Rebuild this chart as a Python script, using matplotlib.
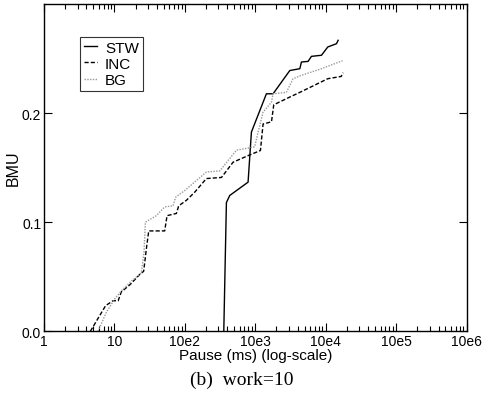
import numpy as np
import matplotlib
matplotlib.use("Agg")
import matplotlib.pyplot as plt
from matplotlib.ticker import LogLocator, NullFormatter

plt.rcParams['font.family'] = ['Liberation Sans', 'DejaVu Sans']

# pause (ms) and BMU
stw_x = [357, 389, 434, 790, 881, 1438, 1790, 3090, 4290, 4520, 5623, 6270, 8710, 10700, 14220, 15000]
stw_y = [0.0, 0.118, 0.1245, 0.1367, 0.1826, 0.2177, 0.2177, 0.239, 0.2407, 0.2468, 0.2474, 0.252, 0.253, 0.2606, 0.2636, 0.2667]

inc_x = [4.55, 6.18, 7.5, 9.55, 11.3, 12.5, 16.8, 22.8, 26, 28.4, 30.7, 51.7, 55.9, 75.8, 81.8, 105, 138,
         202, 331, 484, 790, 1183, 1290, 1698, 1829, 3090, 4290, 10700, 16600, 17660]
inc_y = [0.0, 0.0144, 0.0235, 0.028, 0.028, 0.036, 0.043, 0.052, 0.055, 0.0755, 0.092, 0.092, 0.106, 0.108,
         0.115, 0.12, 0.1275, 0.14, 0.141, 0.155, 0.161, 0.1657, 0.19, 0.192, 0.2076, 0.2147, 0.219, 0.2315,
         0.2336, 0.237]

bg_x = [5.85, 7.68, 10.1, 12.5, 17.4, 24.1, 26.3, 27.5, 39.4, 51.7, 68, 74.1, 99.6, 202, 313, 540, 978,
        1100, 1290, 1698, 1786, 2760, 3440, 4520, 8710, 17300]
bg_y = [0.0, 0.0174, 0.0297, 0.037, 0.046, 0.0535, 0.0725, 0.100, 0.106, 0.114, 0.115, 0.123, 0.129, 0.146,
        0.147, 0.166, 0.169, 0.183, 0.2009, 0.21, 0.2177, 0.219, 0.2315, 0.2346, 0.2407, 0.248]

xticks = [1, 10, 100, 1000, 10000, 100000, 1000000]
xlabels = ['1', '10', '10e2', '10e3', '10e4', '10e5', '10e6']
yticks = [0.0, 0.1, 0.2]

fig = plt.figure(figsize=(4.84, 4.02), dpi=100)
ax = fig.add_axes([0.0909, 0.1734, 0.8731, 0.8142])

ax.plot(stw_x, stw_y, color='black', lw=1.0, label='STW')
ax.plot(inc_x, inc_y, color='black', lw=1.0, ls=(0, (3, 1.5)), label='INC')
ax.plot(bg_x, bg_y, color='#999999', lw=1.0, ls=(0, (1, 1)), label='BG')

ax.set_xscale('log')
ax.set_xlim(1, 1e6)
ax.set_ylim(0, 0.3)
ax.set_xticks(xticks)
ax.set_xticklabels(xlabels)
ax.xaxis.set_minor_locator(LogLocator(base=10, subs=np.arange(2, 10)))
ax.xaxis.set_minor_formatter(NullFormatter())
ax.set_yticks(yticks)
ax.set_yticklabels(['0.0', '0.1', '0.2'])

ax.tick_params(which='both', direction='in', top=True, right=True, labelsize=10, pad=2)
ax.tick_params(which='major', length=6, width=0.8)
ax.tick_params(which='minor', length=3.5, width=0.8)
for s in ax.spines.values():
    s.set_linewidth(1.0)

ax.set_xlabel('Pause (ms) (log-scale)', fontsize=11, labelpad=0)
ax.set_ylabel('BMU', fontsize=11.5, labelpad=1)

leg = ax.legend(loc='upper left', bbox_to_anchor=(0.085, 0.9), fontsize=11, frameon=True,
                fancybox=False, edgecolor='black', handlelength=0.9, handletextpad=0.5,
                borderpad=0.25, labelspacing=0.15, borderaxespad=0)
leg.get_frame().set_linewidth(0.8)

fig.text(0.5, 0.055, '(b)  work=10', ha='center', va='center', fontsize=14,
         family=['Liberation Serif', 'DejaVu Serif'])

fig.savefig('out.png', dpi=100)
